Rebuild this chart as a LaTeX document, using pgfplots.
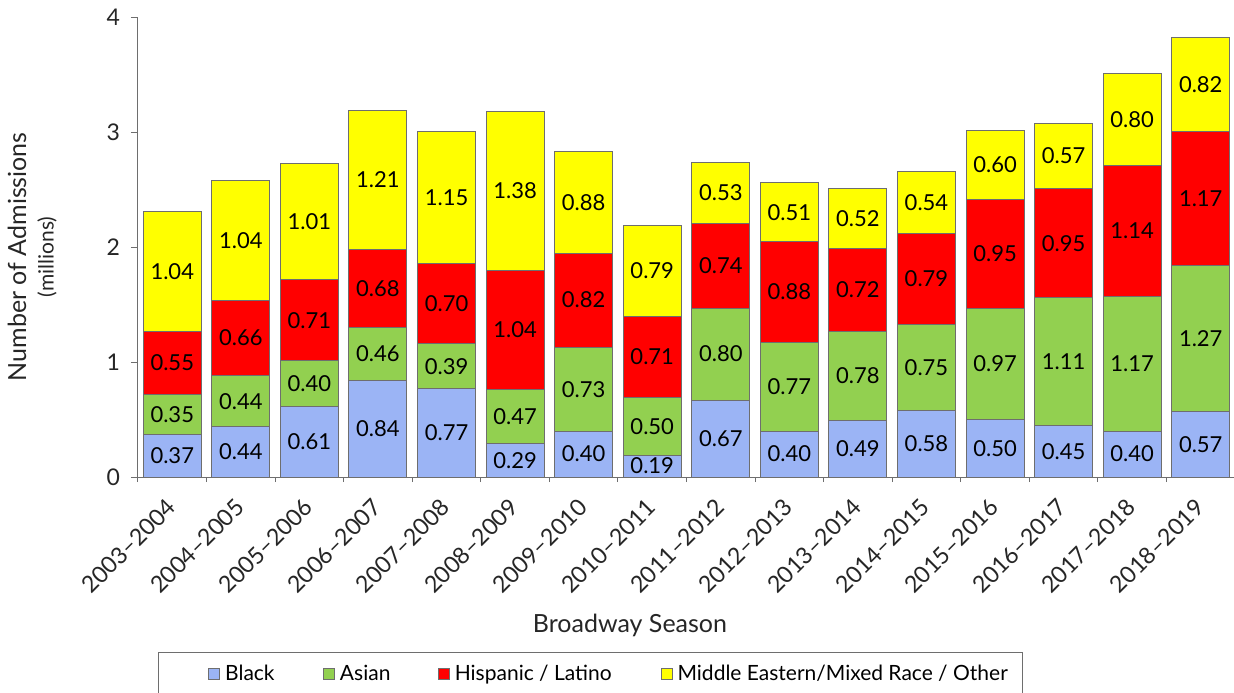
\documentclass[border=0pt]{standalone}
\usepackage{pgfplots}
\pgfplotsset{compat=1.18}
\usepackage{pgfplotstable}
\usepackage{fontspec}
\setmainfont{Lato}

\definecolor{cBlack}{HTML}{9BB4F5}
\definecolor{cAsian}{HTML}{92D050}
\definecolor{cHisp}{HTML}{FF0000}
\definecolor{cOther}{HTML}{FFFF00}
\definecolor{edge}{HTML}{6E6E6E}

% admissions by season, millions
\pgfplotstableread{
x v
0 0.37
1 0.44
2 0.61
3 0.84
4 0.77
5 0.29
6 0.40
7 0.19
8 0.67
9 0.40
10 0.49
11 0.58
12 0.50
13 0.45
14 0.40
15 0.57
}\tblBlack
\pgfplotstableread{
x v
0 0.35
1 0.44
2 0.40
3 0.46
4 0.39
5 0.47
6 0.73
7 0.50
8 0.80
9 0.77
10 0.78
11 0.75
12 0.97
13 1.11
14 1.17
15 1.27
}\tblAsian
\pgfplotstableread{
x v
0 0.55
1 0.66
2 0.71
3 0.68
4 0.70
5 1.04
6 0.82
7 0.71
8 0.74
9 0.88
10 0.72
11 0.79
12 0.95
13 0.95
14 1.14
15 1.17
}\tblHisp
\pgfplotstableread{
x v
0 1.04
1 1.04
2 1.01
3 1.21
4 1.15
5 1.38
6 0.88
7 0.79
8 0.53
9 0.51
10 0.52
11 0.54
12 0.60
13 0.57
14 0.80
15 0.82
}\tblOther

\begin{document}
\begin{tikzpicture}
\useasboundingbox (-69pt,-107.5pt) rectangle (548pt,238.5pt);
\begin{axis}[
  scale only axis,
  width=548.5pt, height=229.75pt,
  ybar stacked,
  bar width=29pt,
  xmin=-0.5, xmax=15.5,
  ymin=0, ymax=4,
  ytick={0,1,2,3,4},
  xtick={0,...,15},
  xticklabels={2003–2004,2004–2005,2005–2006,2006–2007,2007–2008,2008–2009,2009–2010,2010–2011,2011–2012,2012–2013,2013–2014,2014–2015,2015–2016,2016–2017,2017–2018,2018–2019},
  minor xtick={-0.5,0.5,...,15.5},
  axis lines*=left,
  axis line style={draw=edge, line width=0.5pt},
  tick align=outside,
  major tick length=3.5pt,
  minor tick length=2.5pt,
  every major x tick/.append style={draw=none},
  every tick/.append style={draw=edge, line width=0.5pt},
  tick label style={font=\fontsize{11.5}{13}\selectfont, text=black!85},
  /pgf/number format/assume math mode=true,
  xticklabel style={font=\fontsize{11.6}{14}\selectfont, xshift=-3.5pt, yshift=-5pt, rotate=45, anchor=north east, inner sep=1pt},
  yticklabel style={xshift=-2pt},
  every axis plot/.append style={draw=edge, line width=0.5pt},
  point meta=explicit,
  nodes near coords={\pgfmathprintnumber[fixed,fixed zerofill,precision=2]{\pgfplotspointmeta}},
  every node near coord/.append style={anchor=center, font=\fontsize{11}{12}\selectfont, text=black},
  legend image code/.code={\draw[#1, draw=edge, line width=0.4pt] (0pt,-2.75pt) rectangle (5.5pt,2.75pt);},
  legend style={
    at={(axis description cs:0.0638,-0.4287)}, anchor=west,
    legend columns=4, draw=none, fill=none,
    font=\fontsize{10.5}{12}\selectfont,
    inner xsep=0pt, inner ysep=0pt,
    nodes={inner sep=0pt},
    cells={anchor=west},
    /tikz/every odd column/.append style={column sep=2.5pt},
    /tikz/every even column/.append style={column sep=0pt},
  },
  clip=false,
]
\addplot[fill=cBlack] table[x=x, y=v, meta=v] {\tblBlack};
\addplot[fill=cAsian] table[x=x, y=v, meta=v] {\tblAsian};
\addplot[fill=cHisp] table[x=x, y=v, meta=v] {\tblHisp};
\addplot[fill=cOther] table[x=x, y=v, meta=v] {\tblOther};
\legend{\makebox[49pt][l]{Black}, \makebox[49pt][l]{Asian}, \makebox[103pt][l]{Hispanic / Latino}, Middle Eastern/Mixed Race / Other}

% legend frame
\draw[edge, line width=0.5pt] ([xshift=10.5pt, yshift=-112pt]rel axis cs:0,0) rectangle ([xshift=442pt, yshift=-87.5pt]rel axis cs:0,0);

\node[rotate=90, font=\fontsize{12.5}{14}\selectfont, text=black!85] at ([xshift=-60.5pt]rel axis cs:0,0.479) {Number of Admissions};
\node[rotate=90, font=\fontsize{10.5}{12}\selectfont, text=black!85] at ([xshift=-45.5pt]rel axis cs:0,0.479) {(millions)};
\node[font=\fontsize{12.5}{14}\selectfont, text=black!85] at ([yshift=-74pt]rel axis cs:0.4485,0) {Broadway Season};
\end{axis}
\end{tikzpicture}
\end{document}
